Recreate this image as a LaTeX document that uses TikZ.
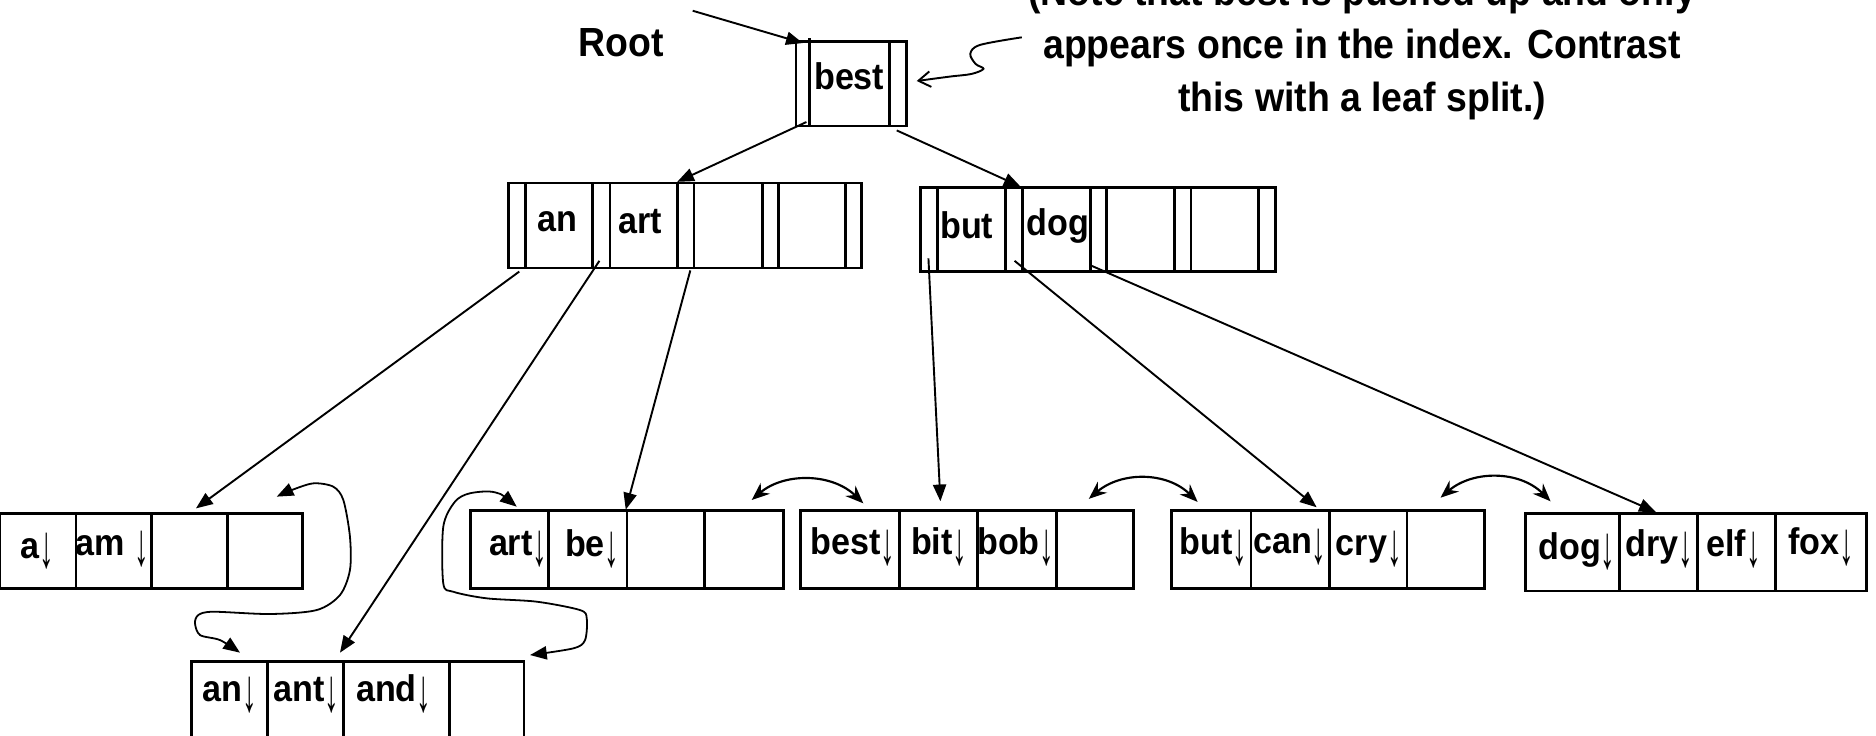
\documentclass[tikz,border=0pt]{standalone}
\usepackage{fontspec}
\usepackage{graphicx}
\setmainfont{Liberation Sans}[FakeStretch=0.92]
\usetikzlibrary{arrows.meta}
\newcommand{\dn}{\raisebox{-0.26em}{\mdseries\scalebox{0.85}[1.65]{\char"2193}}}
\begin{document}
\begin{tikzpicture}[x=1pt,y=-1pt,
  box/.style={line width=2.4pt},
  conn/.style={line width=1.6pt,-{Triangle[length=14pt,width=11pt]}},
  link/.style={line width=1.8pt,{Stealth[length=15pt,width=12pt,inset=5pt]}-{Stealth[length=15pt,width=12pt,inset=5pt]}},
  hand/.style={line width=1.5pt,{Triangle[length=14pt,width=11pt]}-{Triangle[length=14pt,width=11pt]}},
  note/.style={line width=1.6pt,-{Straight Barb[length=10pt,width=13pt]}},
  key/.style={font=\bfseries\fontsize{31}{31}\selectfont, inner sep=0pt},
  big/.style={font=\bfseries\fontsize{34}{44}\selectfont, inner sep=0pt, align=center},
]
\useasboundingbox (0,0) rectangle (1568,615);

% ---------- root node ----------
\draw[box] (665.3,34.9) rectangle (757.9,105.3);
\draw[box] (676.4,32) -- (676.4,105.3);
\draw[box] (743.3,34.9) -- (743.3,105.3);
\node[key] (rootkey) at (709.8,64) {best};

% ---------- internal left ----------
\draw[box] (424.7,153) rectangle (720.4,224);
\foreach \x in {438.9,495.1,509.8,565.9,580.1,637.1,650.5,706.6}
  \draw[box] (\x,153) -- (\x,224);
\node[key] (Lan) at (466,185) {an};
\node[key] (Lart) at (535,185) {art};

% ---------- internal right ----------
\draw[box] (769.2,156.5) rectangle (1065.9,227);
\foreach \x in {783.5,840.5,854.3,911.3,924.7,981.7,995.5,1052.1}
  \draw[box] (\x,156.5) -- (\x,227);
\node[key] (Rbut) at (808,188) {but};
\node[key] (Rdog) at (884,189) {dog};

% ---------- leaves ----------
% A
\draw[box] (0,429) rectangle (253,492);
\foreach \x in {63.5,126.8,190.3} \draw[box] (\x,429) -- (\x,492);
\node[key] (Aa) at (31,461) {a\dn};
\node[key] (Aam) at (94,459) {am \dn};
% B
\draw[box] (160.2,553) rectangle (438,630);
\foreach \x in {223.4,287,375.6} \draw[box] (\x,553) -- (\x,630);
\node[key] (Ban) at (192,581) {an\dn};
\node[key] (Bant) at (256,581) {ant\dn};
\node[key] (Band) at (329,580) {and\dn};
% C
\draw[box] (393.4,426.8) rectangle (654.7,491.8);
\foreach \x in {458.3,524,589} \draw[box] (\x,426.8) -- (\x,491.8);
\node[key] (Cart) at (433,459) {art\dn};
\node[key] (Cbe) at (495,459) {be\dn};
% D
\draw[box] (669.2,427) rectangle (947.5,492);
\foreach \x in {752,817.3,882.9} \draw[box] (\x,427) -- (\x,492);
\node[key] (Dbest) at (713,457) {best\dn};
\node[key] (Dbit) at (785,457) {bit\dn};
\node[key] (Dbob) at (849,457) {bob\dn};
% E
\draw[box] (979.5,427) rectangle (1241,492);
\foreach \x in {1045.6,1111.3,1176} \draw[box] (\x,427) -- (\x,492);
\node[key] (Ebut) at (1014,457) {but\dn};
\node[key] (Ecan) at (1078,457) {can\dn};
\node[key] (Ecry) at (1144,459) {cry\dn};
% F
\draw[box] (1275.3,429) rectangle (1560,494);
\foreach \x in {1353.5,1419,1484} \draw[box] (\x,429) -- (\x,494);
\node[key] (Fdog) at (1318,461) {dog\dn};
\node[key] (Fdry) at (1387,459) {dry\dn};
\node[key] (Felf) at (1449,459) {elf\dn};
\node[key] (Ffox) at (1522,457) {fox\dn};

% ---------- labels ----------
\node[big] (rootlbl) at (519,36) {Root};
\node[big] (notelbl) at (1138.5,40) {(Note that best is pushed up and only\\appears once in the index. Contrast\\this with a leaf split.)};

% ---------- connector endpoints ----------
\coordinate (rootin) at (579,9);
\coordinate (rootentry) at (671,36);
\coordinate (rootP0) at (674,102);
\coordinate (rootP1) at (749.5,109);
\coordinate (LtopP2) at (566,152);
\coordinate (RtopP1) at (853,156);
\coordinate (LP0) at (434,227);
\coordinate (LP1) at (501,218);
\coordinate (LP2) at (577,226);
\coordinate (RP0) at (776,216);
\coordinate (RP1) at (848,218);
\coordinate (RP2) at (912,222);
\coordinate (Atop) at (163.8,424.9);
\coordinate (Btop) at (284.2,545.5);
\coordinate (Ctop) at (523,426);
\coordinate (Dtop) at (786,419);
\coordinate (Etop) at (1100.5,424);
\coordinate (Ftop) at (1384,428);
\coordinate (notestart) at (854,31.2);
\coordinate (notetip) at (766.2,67.7);

% ---------- tree connectors ----------
\draw[conn] (rootin) -- (rootentry);
\draw[conn] (rootP0) -- (LtopP2);
\draw[conn] (rootP1) -- (RtopP1);
\draw[conn] (LP0) -- (Atop);
\draw[conn] (LP1) -- (Btop);
\draw[conn] (LP2) -- (Ctop);
\draw[conn] (RP0) -- (Dtop);
\draw[conn] (RP1) -- (Etop);
\draw[conn] (RP2) -- (Ftop);

% ---------- note arrow ----------
\draw[note] plot[smooth,tension=0.55] coordinates {(notestart) (819,37.6) (811,45) (815.5,53.5) (822,57.5) (812,61.8) (794,64) (notetip)};

% ---------- sibling links ----------
\coordinate (CDl) at (628.3,417.9); \coordinate (CDr) at (721.6,420.7);
\coordinate (DEl) at (910,417);     \coordinate (DEr) at (1001,419.5);
\coordinate (EFl) at (1204,416);    \coordinate (EFr) at (1296,419);
\draw[link] (CDl) .. controls (655,395) and (695,395) .. (CDr);
\draw[link] (DEl) .. controls (937,394) and (975,394) .. (DEr);
\draw[link] (EFl) .. controls (1231,393) and (1270,393) .. (EFr);

\coordinate (ABa) at (231.3,415.1); \coordinate (ABb) at (200.6,545.5);
\draw[hand] plot[smooth,tension=0.5] coordinates {(ABa) (243.8,409.6) (261.9,404) (278.6,406.8) (287,418) (292.5,448.6) (292.5,476.4) (284.2,497.3) (264.7,509.9) (225.7,513.2) (178.3,511.3) (165.8,514) (163,521) (167.2,530.8) (183.9,535) (ABb)};

\coordinate (CBa) at (431.9,423.5); \coordinate (CBb) at (443,547.5);
\draw[hand] plot[smooth,tension=0.5] coordinates {(CBa) (413.7,411.5) (392.8,412.3) (380.3,419.3) (370.5,440.2) (370.5,487.6) (378.9,494.6) (406.8,500.1) (448.6,502.9) (484.8,509.9) (490.4,516.8) (489,535) (479.2,541.9) (CBb)};
\end{tikzpicture}
\end{document}
